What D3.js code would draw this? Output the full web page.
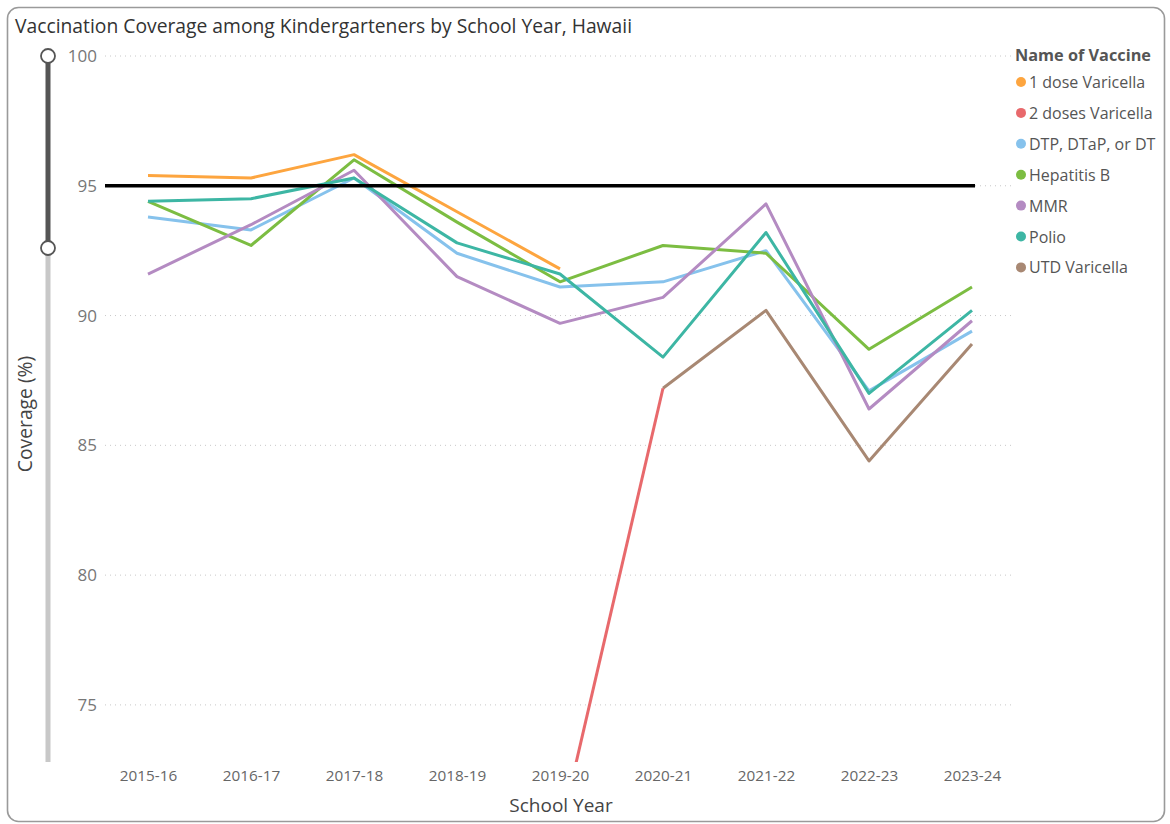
<!DOCTYPE html>
<html>
<head>
<meta charset="utf-8">
<script src="https://cdn.jsdelivr.net/npm/d3@7"></script>
<style>
  html, body { margin: 0; padding: 0; background: #fff; }
  svg { display: block; font-family: "Open Sans", "Noto Sans", sans-serif; }
</style>
</head>
<body>
<svg id="chart" width="1170" height="824"></svg>
<script>
// School years on the x axis
const schoolYears = ["2015-16", "2016-17", "2017-18", "2018-19", "2019-20", "2020-21", "2021-22", "2022-23", "2023-24"];

// Coverage (%) per vaccine; null where no value was reported
const oneDoseVaricella  = [95.4, 95.3, 96.2, 94.0, 91.8, null, null, null, null];
const twoDosesVaricella = [null, null, null, null, 70.1, 87.2, null, null, null];
const dtp               = [93.8, 93.3, 95.3, 92.4, 91.1, 91.3, 92.5, 87.1, 89.4];
const hepatitisB        = [94.4, 92.7, 96.0, 93.6, 91.3, 92.7, 92.4, 88.7, 91.1];
const mmr               = [91.6, 93.5, 95.6, 91.5, 89.7, 90.7, 94.3, 86.4, 89.8];
const polio             = [94.4, 94.5, 95.3, 92.8, 91.6, 88.4, 93.2, 87.0, 90.2];
const utdVaricella      = [null, null, null, null, null, 87.2, 90.2, 84.4, 88.9];

const vaccineNames = ["1 dose Varicella", "2 doses Varicella", "DTP, DTaP, or DT", "Hepatitis B", "MMR", "Polio", "UTD Varicella"];
const vaccineColors = ["#FDA53F", "#E8696C", "#86C2EC", "#7CBD42", "#B48BC2", "#3DB6A4", "#A88873"];
const seriesValues = [oneDoseVaricella, twoDosesVaricella, dtp, hepatitisB, mmr, polio, utdVaricella];

const yTicks = [75, 80, 85, 90, 95, 100];
const targetCoverage = 95;

const svg = d3.select("#chart");

// Card frame
svg.append("rect")
  .attr("x", 7.5).attr("y", 7.5)
  .attr("width", 1157).attr("height", 814)
  .attr("rx", 11)
  .attr("fill", "#fff")
  .attr("stroke", "#9a9a9a")
  .attr("stroke-width", 1.6);

// Title
svg.append("text")
  .attr("x", 15).attr("y", 33)
  .attr("font-size", 19.3)
  .attr("fill", "#333")
  .text("Vaccination Coverage among Kindergarteners by School Year, Hawaii");

const plotLeft = 105, plotRight = 1015, plotTop = 30, plotBottom = 762;

const x = d3.scalePoint().domain(schoolYears).range([148, 972]);
const y = d3.scaleLinear().domain([72.8, 100]).range([plotBottom, 56]);

// Horizontal dotted gridlines
svg.append("g")
  .selectAll("line")
  .data(yTicks)
  .join("line")
  .attr("x1", plotLeft).attr("x2", plotRight)
  .attr("y1", d => y(d)).attr("y2", d => y(d))
  .attr("stroke", "#c8c8c8")
  .attr("stroke-width", 1)
  .attr("stroke-dasharray", "1,4");

// Y axis tick labels
const yAxis = svg.append("g")
  .attr("transform", `translate(${plotLeft - 8},0)`)
  .call(d3.axisLeft(y).tickValues(yTicks).tickSize(0).tickPadding(0));
yAxis.select(".domain").remove();
yAxis.selectAll("text")
  .attr("font-size", 17)
  .attr("fill", "#777")
  .attr("font-family", "Open Sans, Noto Sans, sans-serif");

// X axis tick labels
const xAxis = svg.append("g")
  .attr("transform", `translate(0,${plotBottom + 4})`)
  .call(d3.axisBottom(x).tickSize(0).tickPadding(4));
xAxis.select(".domain").remove();
xAxis.selectAll("text")
  .attr("font-size", 15.3)
  .attr("fill", "#666")
  .attr("font-family", "Open Sans, Noto Sans, sans-serif");

// Axis titles
svg.append("text")
  .attr("x", 561).attr("y", 812)
  .attr("text-anchor", "middle")
  .attr("font-size", 19)
  .attr("fill", "#444")
  .text("School Year");

svg.append("text")
  .attr("transform", `translate(32,414) rotate(-90)`)
  .attr("text-anchor", "middle")
  .attr("font-size", 19.3)
  .attr("fill", "#444")
  .text("Coverage (%)");

// Zoom slider along the y axis
const sliderX = 48, handleTop = 56, handleBottom = 248;
svg.append("line")
  .attr("x1", sliderX).attr("x2", sliderX)
  .attr("y1", handleBottom).attr("y2", plotBottom)
  .attr("stroke", "#c8c8c8").attr("stroke-width", 5);
svg.append("line")
  .attr("x1", sliderX).attr("x2", sliderX)
  .attr("y1", handleTop).attr("y2", handleBottom)
  .attr("stroke", "#555").attr("stroke-width", 5);
svg.selectAll(".handle")
  .data([handleTop, handleBottom])
  .join("circle")
  .attr("class", "handle")
  .attr("cx", sliderX).attr("cy", d => d)
  .attr("r", 7)
  .attr("fill", "#fff")
  .attr("stroke", "#555")
  .attr("stroke-width", 1.8);

// Clip lines to the plot area
svg.append("clipPath").attr("id", "plot-clip")
  .append("rect")
  .attr("x", plotLeft).attr("y", plotTop)
  .attr("width", plotRight - plotLeft).attr("height", plotBottom - plotTop);

const line = d3.line()
  .defined(d => d.v !== null)
  .x(d => x(d.year))
  .y(d => y(d.v));

const series = vaccineNames.map((name, i) => ({
  name,
  color: vaccineColors[i],
  points: schoolYears.map((year, j) => ({ year, v: seriesValues[i][j] }))
}));

// Draw order: later series on top, with the 2-dose line above UTD at their shared point
const drawOrder = [0, 2, 3, 4, 5, 6, 1];
svg.append("g")
  .attr("clip-path", "url(#plot-clip)")
  .selectAll("path")
  .data(drawOrder.map(i => series[i]))
  .join("path")
  .attr("d", d => line(d.points))
  .attr("fill", "none")
  .attr("stroke", d => d.color)
  .attr("stroke-width", 3)
  .attr("stroke-linejoin", "round");

// Target coverage reference line
svg.append("line")
  .attr("x1", plotLeft).attr("x2", x(schoolYears[schoolYears.length - 1]) + 3)
  .attr("y1", y(targetCoverage)).attr("y2", y(targetCoverage))
  .attr("stroke", "#000")
  .attr("stroke-width", 3.5);

// Legend
const legend = svg.append("g").attr("transform", "translate(1015,0)");
legend.append("text")
  .attr("x", 0).attr("y", 61)
  .attr("font-size", 16.3)
  .attr("font-weight", "bold")
  .attr("fill", "#555")
  .text("Name of Vaccine");
const items = legend.selectAll(".item")
  .data(series)
  .join("g")
  .attr("class", "item")
  .attr("transform", (d, i) => `translate(0,${82 + i * 30.9})`);
items.append("circle")
  .attr("cx", 6).attr("cy", 0).attr("r", 5)
  .attr("fill", d => d.color);
items.append("text")
  .attr("x", 14).attr("y", 6)
  .attr("font-size", 16)
  .attr("fill", "#555")
  .text(d => d.name);
</script>
</body>
</html>
